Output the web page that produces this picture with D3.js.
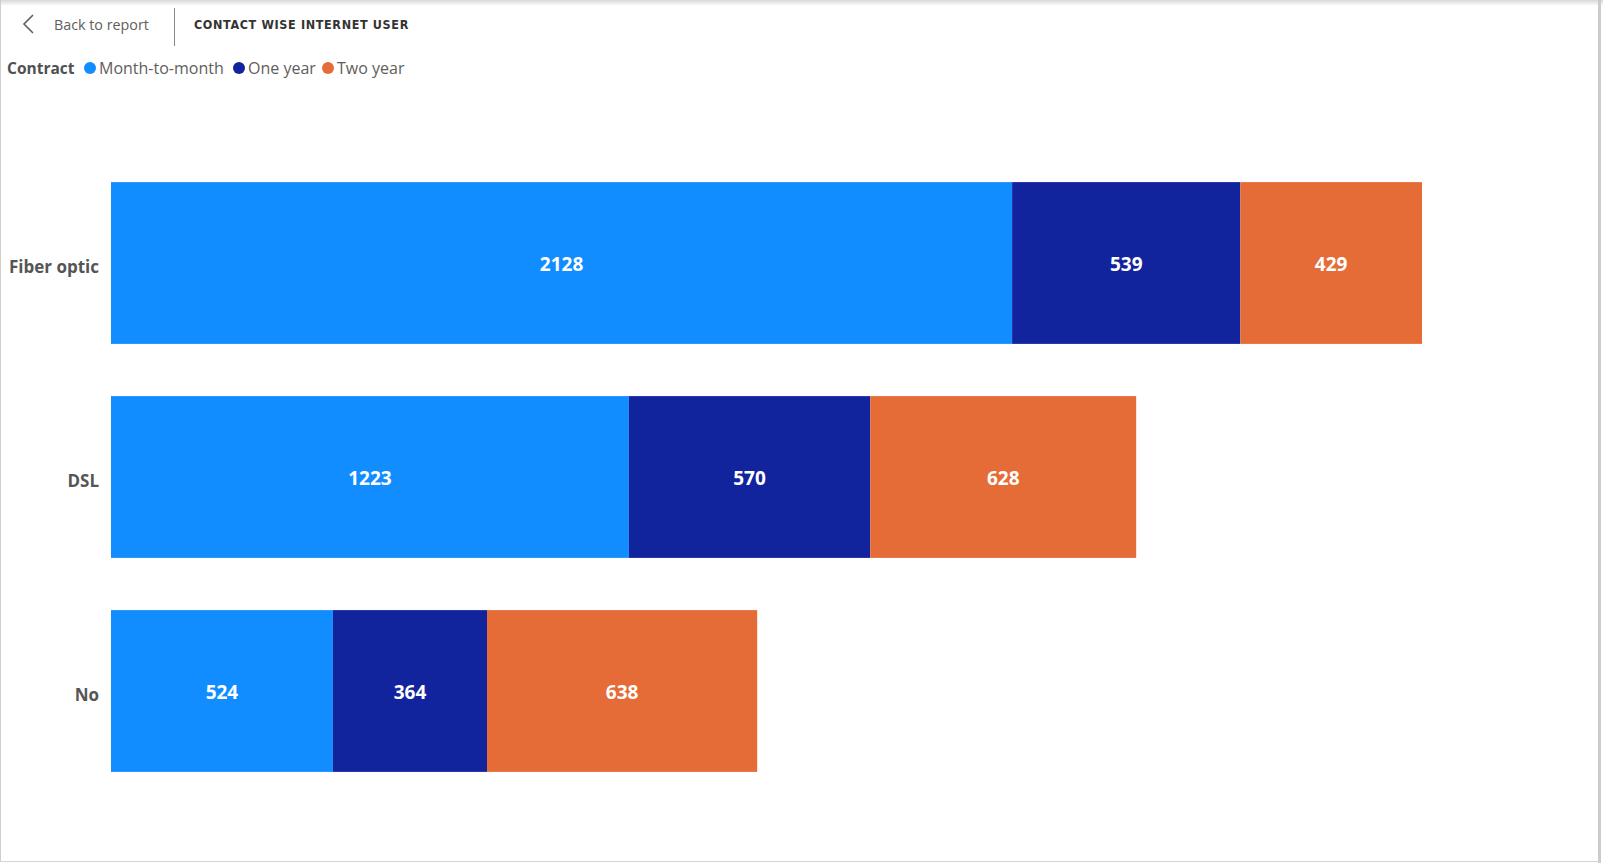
<!DOCTYPE html>
<html>
<head>
<meta charset="utf-8">
<script src="https://cdn.jsdelivr.net/npm/d3@7"></script>
<style>
  html, body { margin: 0; padding: 0; background: #fff; }
  svg { display: block; }
</style>
</head>
<body>
<svg id="chart" width="1603" height="863"></svg>
<script>
const categories = ["Fiber optic", "DSL", "No"];
const seriesNames = ["Month-to-month", "One year", "Two year"];
const monthToMonth = [2128, 1223, 524];
const oneYear = [539, 570, 364];
const twoYear = [429, 628, 638];
const seriesColors = ["#118DFF", "#12239E", "#E66C37"];

const table = categories.map((c, i) => ({
  category: c,
  "Month-to-month": monthToMonth[i],
  "One year": oneYear[i],
  "Two year": twoYear[i]
}));

const svg = d3.select("#chart");
const W = 1603, H = 863;

// frame
const defs = svg.append("defs");
const grad = defs.append("linearGradient").attr("id", "topShadow").attr("x1", 0).attr("y1", 0).attr("x2", 0).attr("y2", 1);
grad.append("stop").attr("offset", "0%").attr("stop-color", "#d8d8d8");
grad.append("stop").attr("offset", "100%").attr("stop-color", "#ffffff");
svg.append("rect").attr("x", 0).attr("y", 0).attr("width", W).attr("height", 6).attr("fill", "url(#topShadow)");
svg.append("line").attr("x1", 0.5).attr("x2", 0.5).attr("y1", 0).attr("y2", 862).attr("stroke", "#cfcfcf");
svg.append("rect").attr("x", 1598).attr("y", 0).attr("width", 3).attr("height", 863).attr("fill", "#cccccc");
svg.append("line").attr("x1", 0).attr("x2", 1600).attr("y1", 861.5).attr("y2", 861.5).attr("stroke", "#d4d4d4");

// header
svg.append("path")
  .attr("d", "M33,15 L24,24 L33,33")
  .attr("fill", "none").attr("stroke", "#605e5c").attr("stroke-width", 1.6);
svg.append("text")
  .attr("x", 54).attr("y", 24.5).attr("dominant-baseline", "central")
  .attr("font-family", "'Open Sans', sans-serif").attr("font-size", 14.3)
  .attr("fill", "#605e5c").text("Back to report");
svg.append("line").attr("x1", 174.5).attr("x2", 174.5).attr("y1", 8).attr("y2", 46)
  .attr("stroke", "#8a8886").attr("stroke-width", 1);
svg.append("text")
  .attr("x", 194).attr("y", 24).attr("dominant-baseline", "central")
  .attr("font-family", "'DejaVu Sans Condensed', 'DejaVu Sans', sans-serif").attr("font-weight", "bold").attr("font-size", 12.5)
  .attr("letter-spacing", 0.7)
  .attr("textLength", 215).attr("lengthAdjust", "spacing")
  .attr("fill", "#333333").text("CONTACT WISE INTERNET USER");

// legend
const legend = svg.append("g").attr("font-family", "'Open Sans', sans-serif").attr("font-size", 16);
legend.append("text").attr("x", 7).attr("y", 67.5).attr("dominant-baseline", "central")
  .attr("font-weight", "bold").attr("font-size", 15.5).attr("fill", "#505050").text("Contract");
const legendX = [90, 239, 328];
seriesNames.forEach((s, i) => {
  legend.append("circle").attr("cx", legendX[i]).attr("cy", 68).attr("r", 6).attr("fill", seriesColors[i]);
  legend.append("text").attr("x", legendX[i] + 9).attr("y", 67.5).attr("dominant-baseline", "central")
    .attr("fill", "#605e5c").text(s);
});

// scales
const x = d3.scaleLinear().domain([0, d3.max(table, d => d["Month-to-month"] + d["One year"] + d["Two year"])]).range([111, 1422]);
const y = d3.scaleBand().domain(categories).range([156, 798]).paddingInner(0.244).paddingOuter(0.122);
const color = d3.scaleOrdinal().domain(seriesNames).range(seriesColors);

const stack = d3.stack().keys(seriesNames);
const stacked = stack(table);

const layers = svg.append("g").selectAll("g").data(stacked).join("g").attr("fill", d => color(d.key));
layers.selectAll("rect").data(d => d).join("rect")
  .attr("x", d => x(d[0]))
  .attr("y", d => y(d.data.category))
  .attr("width", d => x(d[1]) - x(d[0]))
  .attr("height", y.bandwidth());

// data labels
const lbl = svg.append("g").attr("font-family", "'Open Sans', sans-serif").attr("font-weight", "bold")
  .attr("font-size", 19).attr("fill", "#ffffff").attr("text-anchor", "middle");
stacked.forEach(layer => {
  layer.forEach(d => {
    lbl.append("text")
      .attr("x", (x(d[0]) + x(d[1])) / 2)
      .attr("y", y(d.data.category) + y.bandwidth() / 2 + 0.5)
      .attr("dominant-baseline", "central")
      .text(d[1] - d[0]);
  });
});

// y axis
const yAxis = d3.axisLeft(y).tickSize(0).tickPadding(12);
const ax = svg.append("g").attr("transform", "translate(111,0)").call(yAxis);
ax.select(".domain").remove();
ax.selectAll("text")
  .attr("font-family", "'Open Sans', sans-serif").attr("font-weight", "bold").attr("font-size", 17)
  .attr("fill", "#555555").attr("dy", "0.6em");
</script>
</body>
</html>
